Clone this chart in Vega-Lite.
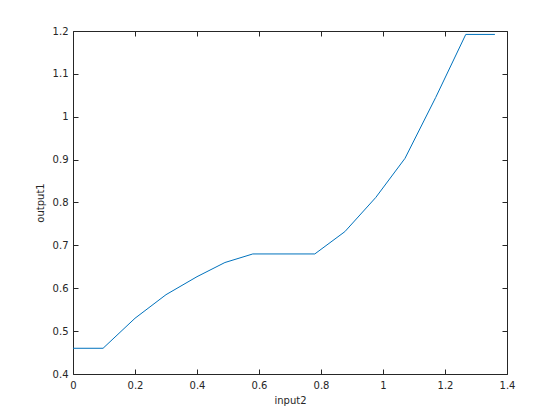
{
  "$schema": "https://vega.github.io/schema/vega-lite/v6.json",
  "width": 434,
  "height": 343,
  "autosize": {"type": "none"},
  "padding": {"left": 73, "top": 31, "right": 53, "bottom": 46},
  "background": "white",
  "config": {
    "view": {"stroke": null},
    "axis": {"labelFont": "DejaVu Sans", "titleFont": "DejaVu Sans", "labelFontSize": 10, "titleFontSize": 10, "titleFontWeight": "normal", "labelColor": "#262626", "titleColor": "#262626", "domainColor": "#262626", "tickColor": "#262626", "grid": false, "tickSize": -5, "labelFlush": false, "labelOverlap": false}
  },
  "data": {"values": [
    {"x": 0, "y": 0.46},
    {"x": 0.097, "y": 0.46},
    {"x": 0.2, "y": 0.53},
    {"x": 0.3, "y": 0.585},
    {"x": 0.4, "y": 0.627},
    {"x": 0.49, "y": 0.66},
    {"x": 0.58, "y": 0.68},
    {"x": 0.78, "y": 0.68},
    {"x": 0.877, "y": 0.732},
    {"x": 0.977, "y": 0.812},
    {"x": 1.071, "y": 0.903},
    {"x": 1.17, "y": 1.045},
    {"x": 1.267, "y": 1.192},
    {"x": 1.361, "y": 1.192}
  ]},
  "layer": [
    {
      "mark": {"type": "line", "color": "#0072BD", "strokeWidth": 1},
      "encoding": {
        "x": {"field": "x", "type": "quantitative", "scale": {"domain": [0, 1.4], "nice": false, "zero": false}, "axis": {"title": "input2", "values": [0,0.2,0.4,0.6,0.8,1,1.2,1.4], "labelExpr": "datum.value == 0 ? '0' : datum.value == 1 ? '1' : format(datum.value, '.1f')", "titlePadding": 5, "labelPadding": 11}},
        "y": {"field": "y", "type": "quantitative", "scale": {"domain": [0.4, 1.2], "nice": false, "zero": false}, "axis": {"title": "output1", "values": [0.4,0.5,0.6,0.7,0.8,0.9,1,1.1,1.2], "labelExpr": "datum.value == 1 ? '1' : format(datum.value, '.1f')", "titlePadding": 7, "labelPadding": 10}}
      }
    },
    {
      "mark": {"type": "line", "opacity": 0},
      "encoding": {
        "x": {"field": "x", "type": "quantitative", "scale": {"domain": [0, 1.4], "nice": false, "zero": false}, "axis": {"orient": "top", "title": null, "labels": false, "values": [0,0.2,0.4,0.6,0.8,1,1.2,1.4]}},
        "y": {"field": "y", "type": "quantitative", "scale": {"domain": [0.4, 1.2], "nice": false, "zero": false}, "axis": {"orient": "right", "title": null, "labels": false, "values": [0.4,0.5,0.6,0.7,0.8,0.9,1,1.1,1.2]}}
      }
    }
  ],
  "resolve": {"axis": {"x": "independent", "y": "independent"}}
}
